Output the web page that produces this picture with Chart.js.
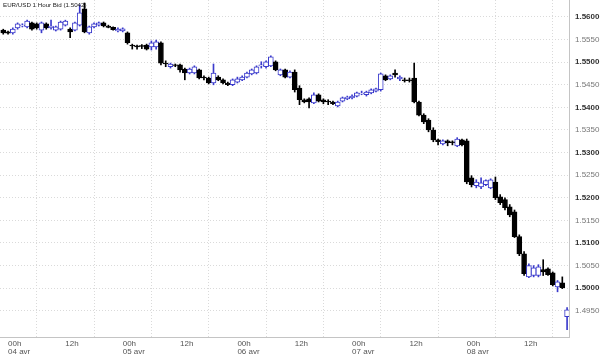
<!DOCTYPE html>
<html><head><meta charset="utf-8">
<script src="https://cdn.jsdelivr.net/npm/chart.js@4.4.1/dist/chart.umd.min.js"></script>
<style>
html,body{margin:0;padding:0;background:#fff;}
#wrap{position:relative;width:600px;height:356px;}
#title{position:absolute;left:3px;top:0px;font:6.2px "Liberation Sans",Arial,sans-serif;color:#222;white-space:nowrap;line-height:9px;}
</style></head><body>
<div id="wrap"><canvas id="c" width="600" height="356"></canvas><div id="title">EUR/USD 1 Hour Bid (1.5042)</div></div>
<script>
// hours since 04 avr 00h
const hours = [-1,0,1,2,3,4,5,6,7,8,9,10,11,12,13,14,15,16,17,18,19,20,21,22,23,24,25,26,27,28,29,30,31,32,33,34,35,36,37,38,39,40,41,42,43,44,45,46,47,48,49,50,51,52,53,54,55,56,57,58,59,60,61,62,63,64,65,66,67,68,69,70,71,72,73,74,75,76,77,78,79,80,81,82,83,84,85,86,87,88,89,90,91,92,93,94,95,96,97,98,99,100,101,102,103,104,105,106,107,108,109,110,111,112,113,114,115,116,117];
const open = [1.5571,1.5567,1.5565,1.5576,1.5580,1.5578,1.5587,1.5585,1.5571,1.5585,1.5576,1.5571,1.5573,1.5582,1.5573,1.5571,1.5582,1.5618,1.5565,1.5578,1.5582,1.5587,1.5580,1.5577,1.5569,1.5569,1.5565,1.5538,1.5536,1.5537,1.5538,1.5534,1.5534,1.5543,1.5498,1.5490,1.5494,1.5494,1.5485,1.5476,1.5476,1.5483,1.5467,1.5465,1.5454,1.5467,1.5461,1.5454,1.5450,1.5456,1.5461,1.5467,1.5474,1.5476,1.5492,1.5490,1.5492,1.5501,1.5472,1.5483,1.5467,1.5478,1.5443,1.5417,1.5419,1.5410,1.5428,1.5417,1.5414,1.5412,1.5403,1.5414,1.5419,1.5421,1.5425,1.5430,1.5428,1.5432,1.5436,1.5439,1.5470,1.5463,1.5476,1.5463,1.5461,1.5461,1.5465,1.5412,1.5383,1.5372,1.5350,1.5328,1.5319,1.5326,1.5324,1.5315,1.5328,1.5326,1.5244,1.5227,1.5224,1.5229,1.5222,1.5235,1.5202,1.5196,1.5180,1.5169,1.5114,1.5076,1.5025,1.5028,1.5028,1.5041,1.5043,1.5034,1.5003,1.5012,1.4937];
const high = [1.5573,1.5569,1.5576,1.5587,1.5585,1.5593,1.5589,1.5587,1.5589,1.5587,1.5593,1.5580,1.5591,1.5593,1.5576,1.5589,1.5627,1.5631,1.5580,1.5587,1.5589,1.5589,1.5582,1.5578,1.5576,1.5576,1.5567,1.5540,1.5538,1.5539,1.5540,1.5547,1.5549,1.5545,1.5503,1.5498,1.5496,1.5496,1.5487,1.5487,1.5492,1.5485,1.5470,1.5467,1.5496,1.5470,1.5463,1.5456,1.5463,1.5467,1.5470,1.5478,1.5485,1.5492,1.5501,1.5503,1.5514,1.5503,1.5485,1.5485,1.5481,1.5483,1.5448,1.5419,1.5421,1.5432,1.5430,1.5419,1.5417,1.5414,1.5414,1.5423,1.5425,1.5428,1.5434,1.5436,1.5436,1.5441,1.5443,1.5476,1.5472,1.5472,1.5483,1.5470,1.5465,1.5465,1.5498,1.5414,1.5386,1.5375,1.5355,1.5330,1.5328,1.5328,1.5326,1.5333,1.5330,1.5330,1.5249,1.5240,1.5244,1.5240,1.5242,1.5246,1.5207,1.5200,1.5185,1.5173,1.5118,1.5081,1.5054,1.5050,1.5052,1.5063,1.5045,1.5036,1.5017,1.5025,1.4957];
const low = [1.5562,1.5562,1.5562,1.5573,1.5578,1.5576,1.5571,1.5573,1.5565,1.5573,1.5573,1.5569,1.5571,1.5580,1.5554,1.5569,1.5580,1.5565,1.5562,1.5576,1.5580,1.5578,1.5576,1.5571,1.5567,1.5567,1.5540,1.5529,1.5529,1.5530,1.5527,1.5527,1.5529,1.5494,1.5490,1.5487,1.5490,1.5478,1.5461,1.5474,1.5474,1.5463,1.5461,1.5452,1.5450,1.5459,1.5452,1.5448,1.5448,1.5454,1.5459,1.5465,1.5472,1.5474,1.5487,1.5487,1.5490,1.5481,1.5470,1.5465,1.5465,1.5434,1.5406,1.5410,1.5399,1.5408,1.5412,1.5408,1.5406,1.5406,1.5401,1.5412,1.5417,1.5419,1.5423,1.5428,1.5425,1.5430,1.5434,1.5436,1.5459,1.5461,1.5467,1.5459,1.5456,1.5456,1.5410,1.5381,1.5364,1.5346,1.5324,1.5317,1.5317,1.5315,1.5317,1.5313,1.5315,1.5231,1.5224,1.5222,1.5220,1.5227,1.5220,1.5196,1.5185,1.5173,1.5158,1.5112,1.5072,1.5028,1.5023,1.5025,1.5025,1.5028,1.5028,1.5005,1.4992,1.4999,1.4908];
const close = [1.5565,1.5564,1.5573,1.5585,1.5582,1.5591,1.5573,1.5576,1.5587,1.5576,1.5580,1.5578,1.5589,1.5591,1.5567,1.5587,1.5609,1.5567,1.5578,1.5585,1.5587,1.5580,1.5577,1.5572,1.5573,1.5574,1.5543,1.5536,1.5534,1.5535,1.5529,1.5543,1.5545,1.5498,1.5496,1.5496,1.5493,1.5483,1.5476,1.5485,1.5490,1.5465,1.5465,1.5454,1.5476,1.5461,1.5454,1.5450,1.5461,1.5463,1.5467,1.5476,1.5483,1.5490,1.5494,1.5501,1.5512,1.5483,1.5483,1.5467,1.5478,1.5439,1.5417,1.5412,1.5412,1.5428,1.5414,1.5412,1.5412,1.5408,1.5412,1.5421,1.5423,1.5425,1.5432,1.5431,1.5434,1.5439,1.5441,1.5474,1.5461,1.5470,1.5472,1.5467,1.5459,1.5459,1.5412,1.5383,1.5368,1.5350,1.5328,1.5324,1.5326,1.5322,1.5322,1.5330,1.5317,1.5235,1.5229,1.5235,1.5233,1.5238,1.5240,1.5200,1.5189,1.5178,1.5162,1.5114,1.5076,1.5032,1.5050,1.5045,1.5047,1.5036,1.5030,1.5008,1.5014,1.5001,1.4952];
const xTickHours = [0,12,24,36,48,60,72,84,96,108];
const dayLabels = ['04 avr','05 avr','06 avr','07 avr','08 avr'];
const yTickValues = [1.4950,1.5000,1.5050,1.5100,1.5150,1.5200,1.5250,1.5300,1.5350,1.5400,1.5450,1.5500,1.5550,1.5600];

const UP = '#3b3bcc', DOWN = '#000000';
const bull = close.map((c, i) => c >= open[i]);
const FONT = '"Liberation Sans", Arial, sans-serif';
const isMajor = c => !!(c && c.tick) && Math.abs(c.tick.value * 100 - Math.round(c.tick.value * 100)) < 1e-6;

new Chart(document.getElementById('c'), {
  type: 'bar',
  data: {
    datasets: [
      {
        label: 'body', order: 1, grouped: false, barThickness: 5,
        data: hours.map((h, i) => ({x: h, y: [open[i], close[i]]})),
        backgroundColor: bull.map(b => b ? '#ffffff' : DOWN),
        borderColor: bull.map(b => b ? UP : DOWN),
        borderWidth: 1, borderSkipped: false
      },
      {
        label: 'wick', order: 2, grouped: false, barThickness: 1,
        data: hours.map((h, i) => ({x: h, y: [low[i], high[i]]})),
        backgroundColor: bull.map(b => b ? UP : DOWN),
        borderWidth: 0
      }
    ]
  },
  options: {
    responsive: false, animation: false,
    layout: {padding: 0},
    plugins: {legend: {display: false}, tooltip: {enabled: false}, title: {display: false}},
    scales: {
      x: {
        type: 'linear', min: -1.68, max: 117.4, offset: false,
        afterBuildTicks: s => { s.ticks = xTickHours.map(v => ({value: v})); },
        afterFit: s => { s.height = 19; s.paddingLeft = 0; s.paddingRight = 0; },
        grid: {color: '#dadada', drawTicks: false, lineWidth: 1},
        border: {display: true, color: '#c4c4c4', dash: [1, 2]},
        ticks: {
          align: 'start', maxRotation: 0, autoSkip: false, padding: 2, color: '#555',
          font: {size: 8, family: FONT, lineHeight: 1.1},
          callback: v => (v % 24 === 0) ? ['00h', dayLabels[v / 24]] : '12h'
        }
      },
      y: {
        position: 'right', min: 1.48920, max: 1.56376,
        afterBuildTicks: s => { s.ticks = yTickValues.map(v => ({value: v})); },
        afterFit: s => { s.width = 31; s.paddingTop = 0; s.paddingBottom = 0; },
        grid: {color: '#dadada', drawTicks: false, lineWidth: 1},
        border: {display: true, color: '#c4c4c4', dash: [1, 2]},
        ticks: {
          padding: 6,
          color: c => isMajor(c) ? '#333' : '#777',
          font: c => ({size: 8, family: FONT, weight: isMajor(c) ? 'bold' : 'normal'}),
          callback: v => v.toFixed(4)
        }
      }
    }
  }
});
</script>
</body></html>
